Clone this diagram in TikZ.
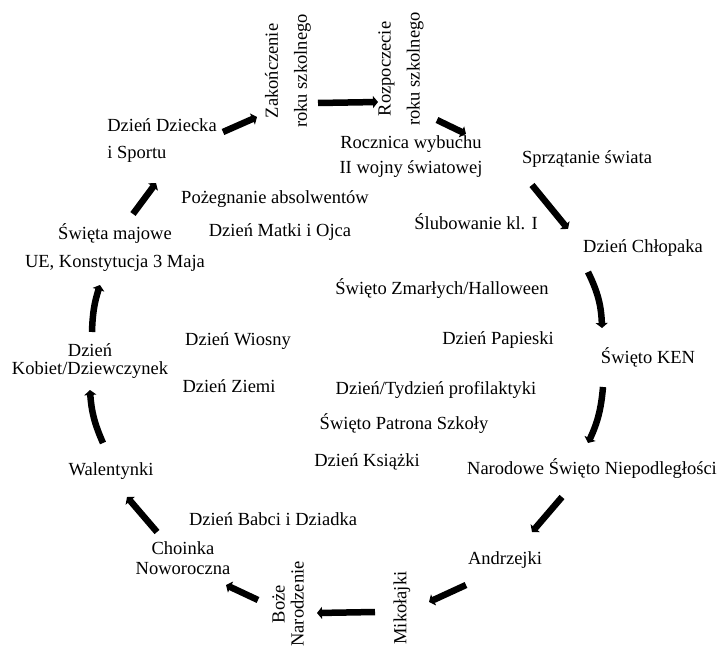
\documentclass[tikz,border=0pt]{standalone}
\usepackage{fontspec}
\setmainfont{Liberation Serif}
\usepackage{tikz}
\usetikzlibrary{arrows.meta,calc}

\begin{document}
\begin{tikzpicture}[
    x=1pt, y=-1pt,
    every node/.style={inner sep=1pt, align=center, font=\fontsize{18.5}{22}\selectfont},
    flow/.style={line width=6.5pt, -{Triangle[length=5pt, width=12pt]}}
]
\useasboundingbox (0,0) rectangle (720,647);

% the yearly circle
\node[rotate=90] (zak) at (288,71) {Zakończenie\\[7pt]roku szkolnego};
\node[rotate=90] (roz) at (401,69) {Rozpoczecie\\[7pt]roku szkolnego};
\node (sprz) at (587,159) {Sprzątanie świata};
\node (chlopak) at (643,248) {Dzień Chłopaka};
\node (ken) at (648,357) {Święto KEN};
\node (narod) at (592,469) {Narodowe Święto Niepodległości};
\node (andrz) at (505,560) {Andrzejki};
\node[rotate=90] (mikol) at (402,608) {Mikołajki};
\node[rotate=90] (boze) at (288,604) {Boże\\[-3pt]Narodzenie};
\node (choinka) at (183,558) {Choinka\\[-2pt]Noworoczna};
\node (walent) at (111,471) {Walentynki};
\node (kobiet) at (90,361) {Dzień\\[-4pt]Kobiet/Dziewczynek};
\node (majowe) at (115,248) {Święta majowe\\[6pt]UE, Konstytucja 3 Maja};
\node[align=left] (dziecko) at (162,141) {Dzień Dziecka\\[5pt]i Sportu};

% inside the circle
\node (rocznica) at (411,157) {Rocznica wybuchu\\[3pt]II wojny światowej};
\node (pozeg) at (275,199) {Pożegnanie absolwentów};
\node (slub) at (476,222) {Ślubowanie kl. I};
\node (matka) at (280,232) {Dzień Matki i Ojca};
\node (zmarli) at (442,289) {Święto Zmarłych/Halloween};
\node (wiosna) at (238,341) {Dzień Wiosny};
\node (papiez) at (498,340) {Dzień Papieski};
\node (ziemia) at (229,386) {Dzień Ziemi};
\node (profil) at (436,390) {Dzień/Tydzień profilaktyki};
\node (patron) at (404,424) {Święto Patrona Szkoły};
\node (ksiazka) at (367,462) {Dzień Książki};
\node (babcia) at (273,519) {Dzień Babci i Dziadka};

% arrows
\draw[flow] ([shift={(61,-9)}]dziecko.center) -- ([shift={(-31,46)}]zak.center);
\draw[flow] ([shift={(30,32)}]zak.center) -- ([shift={(-23,33)}]roz.center);
\draw[flow] ([shift={(36,51)}]roz.center) -- ([shift={(-121,-25)}]sprz.center);
\draw[flow] ([shift={(-55,26)}]sprz.center) -- ([shift={(-75,-19)}]chlopak.center);
\draw[flow] ([shift={(-55,24)}]chlopak.center) to[bend left=12] ([shift={(-46,-29)}]ken.center);
\draw[flow] ([shift={(-45,30)}]ken.center) to[bend left=10] ([shift={(-4,-26)}]narod.center);
\draw[flow] ([shift={(-30,28)}]narod.center) -- ([shift={(27,-28)}]andrz.center);
\draw[flow] ([shift={(-39,25)}]andrz.center) -- ([shift={(27,-6)}]mikol.center);
\draw[flow] ([shift={(-27,4)}]mikol.center) -- ([shift={(29,9)}]boze.center);
\draw[flow] ([shift={(-30,-4)}]boze.center) -- ([shift={(43,27)}]choinka.center);
\draw[flow] ([shift={(-26,-26)}]choinka.center) -- ([shift={(16,26)}]walent.center);
\draw[flow] ([shift={(-8,-28)}]walent.center) to[bend left=10] ([shift={(0,29)}]kobiet.center);
\draw[flow] ([shift={(2,-29)}]kobiet.center) to[bend left=8] ([shift={(-15,37)}]majowe.center);
\draw[flow] ([shift={(18,-34)}]majowe.center) -- ([shift={(-6,42)}]dziecko.center);
\end{tikzpicture}
\end{document}
